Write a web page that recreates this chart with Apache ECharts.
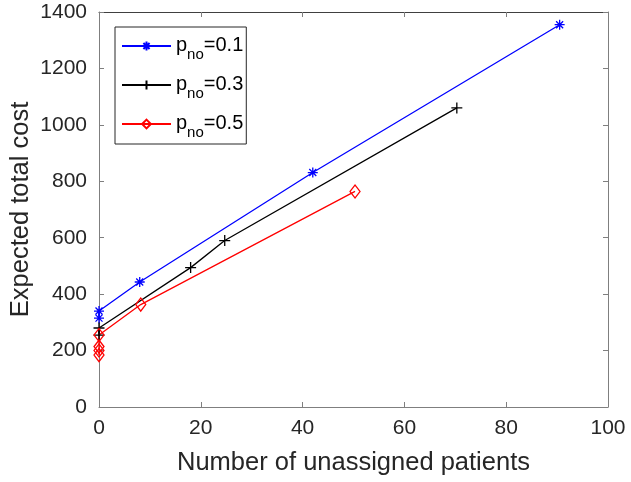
<!DOCTYPE html>
<html><head><meta charset="utf-8">
<script src="https://cdn.jsdelivr.net/npm/echarts@6/dist/echarts.min.js"></script>
<style>html,body{margin:0;padding:0;background:#fff}#c{width:631px;height:482px}</style>
</head><body><div id="c"></div>
<script>
// Data
var seriesNames = ['0.1', '0.3', '0.5'];
var blueX = [0, 0, 8, 42, 90.5];
var blueY = [315, 340, 443, 831, 1355];
var blackX = [0, 0, 18, 24.7, 70.3];
var blackY = [255, 280, 494, 590, 1060];
var redX = [0, 0, 0, 0, 8.2, 50.3];
var redY = [184, 200, 214, 255, 363, 764];
var xTicks = [0, 20, 40, 60, 80, 100];
var yTicks = [0, 200, 400, 600, 800, 1000, 1200, 1400];

function pairs(xs, ys) { return xs.map(function (x, i) { return [x, ys[i]]; }); }

var starPath = 'path://M0 5 L10 5 M5 0 L5 10 M1.5 1.5 L8.5 8.5 M8.5 1.5 L1.5 8.5';
var plusPath = 'path://M0 5 L10 5 M5 0 L5 10';
var diamondPath = 'path://M5 0 L9 6 L5 12 L1 6 Z';

var txt = '#262626';
var axisCol = '#7f7f7f';
var FF = 'Liberation Sans';
var chart = echarts.init(document.getElementById('c'));
var grid = { left: 99, right: 23, top: 12, bottom: 75, containLabel: false, outerBoundsMode: 'none' };

function mk(name, xs, ys, col, sym, size) {
  return {
    name: name, type: 'line', data: pairs(xs, ys),
    symbol: sym, symbolSize: size, showAllSymbol: true,
    lineStyle: { color: col, width: 1.3 },
    itemStyle: { color: 'none', borderColor: col, borderWidth: 1.3 },
    emphasis: { disabled: true }, animation: false, z: 3
  };
}

chart.setOption({
  animation: false,
  grid: grid,
  legend: {
    orient: 'vertical', left: 115, top: 27,
    data: seriesNames.map(function (n) { return 'p' + n; }),
    formatter: function (n) { return '{p|p}{s|no}{p|=' + n.slice(1) + '}'; },
    textStyle: {
      rich: {
        p: { fontFamily: FF, fontSize: 20, color: '#000', verticalAlign: 'top', lineHeight: 22 },
        s: { fontFamily: FF, fontSize: 15, color: '#000', padding: [12, 0, 0, 0], verticalAlign: 'top', lineHeight: 15 }
      }
    },
    itemWidth: 49, itemHeight: 11, itemGap: 12,
    borderColor: txt, borderWidth: 1, backgroundColor: '#fff',
    padding: [8, 3, 4, 6], selectedMode: false
  },
  xAxis: [{
    type: 'value', min: 0, max: 100, interval: 20, position: 'bottom',
    name: 'Number of unassigned patients', nameLocation: 'middle', nameGap: 43,
    nameMoveOverlap: false,
    nameTextStyle: { fontFamily: FF, fontSize: 25.5, color: txt },
    axisLine: { show: true, onZero: false, lineStyle: { color: axisCol } },
    axisTick: { show: true, inside: true, length: 5, lineStyle: { color: axisCol } },
    axisLabel: { fontFamily: FF, fontSize: 21, color: txt, margin: 11,
      formatter: function (v) { return xTicks.indexOf(v) >= 0 ? String(v) : ''; } },
    splitLine: { show: false }
  }, {
    type: 'value', min: 0, max: 100, interval: 20, position: 'top',
    axisLine: { show: true, onZero: false, lineStyle: { color: '#404040' } },
    axisTick: { show: true, inside: true, length: 5, lineStyle: { color: axisCol } },
    axisLabel: { show: false }, splitLine: { show: false }
  }],
  yAxis: [{
    type: 'value', min: 0, max: 1400, interval: 200, position: 'left',
    name: 'Expected total cost', nameLocation: 'middle', nameGap: 65,
    nameMoveOverlap: false,
    nameTextStyle: { fontFamily: FF, fontSize: 25.5, color: txt },
    axisLine: { show: true, onZero: false, lineStyle: { color: axisCol } },
    axisTick: { show: true, inside: true, length: 5, lineStyle: { color: axisCol } },
    axisLabel: { fontFamily: FF, fontSize: 21, color: txt, margin: 12,
      formatter: function (v) { return yTicks.indexOf(v) >= 0 ? String(v) : ''; } },
    splitLine: { show: false }
  }, {
    type: 'value', min: 0, max: 1400, interval: 200, position: 'right',
    axisLine: { show: true, onZero: false, lineStyle: { color: axisCol } },
    axisTick: { show: true, inside: true, length: 5, lineStyle: { color: axisCol } },
    axisLabel: { show: false }, splitLine: { show: false }
  }],
  series: [
    mk('p' + seriesNames[0], blueX, blueY, '#0000ff', starPath, 10),
    mk('p' + seriesNames[1], blackX, blackY, '#000000', plusPath, 11),
    mk('p' + seriesNames[2], redX, redY, '#ff0000', diamondPath, [10, 13])
  ]
});
</script></body></html>
